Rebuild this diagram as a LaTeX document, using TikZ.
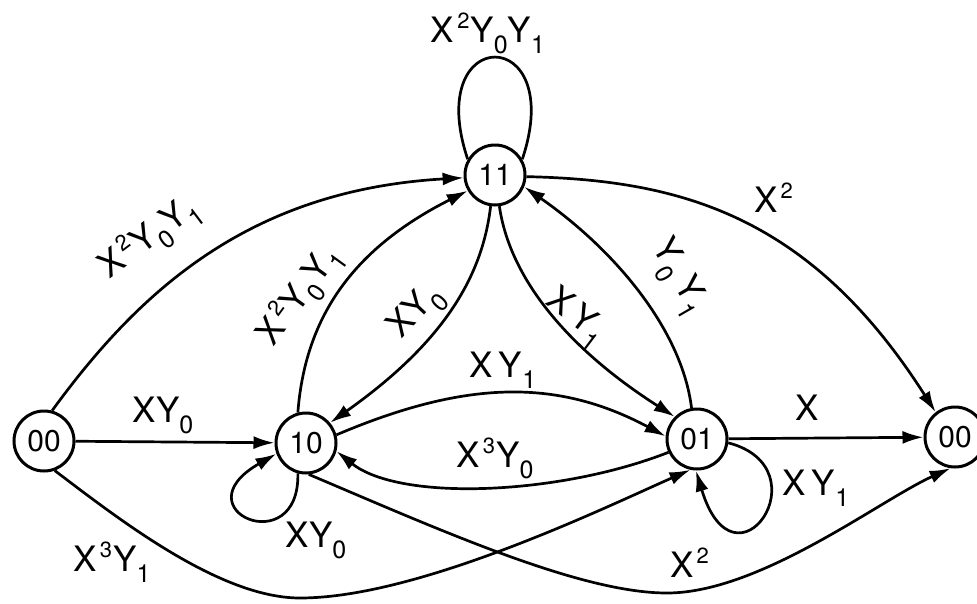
\documentclass[tikz,border=0pt]{standalone}
\usepackage{fontspec}
\setmainfont{TeX Gyre Heros}
\usetikzlibrary{arrows.meta}
\newcommand\up[1]{\kern3pt\raisebox{14pt}{\fontsize{22}{22}\selectfont #1}\kern1pt}
\newcommand\dn[1]{\raisebox{-11pt}{\fontsize{25}{25}\selectfont #1}}
\begin{document}
\begin{tikzpicture}[x=1pt,y=-1pt,
  state/.style={circle,draw,line width=3pt,minimum size=60pt,inner sep=0pt,font=\fontsize{30}{30}\selectfont},
  edge/.style={line width=2.7pt,-{Latex[length=21pt,width=13pt]}},
  plain/.style={line width=2.7pt},
  lab/.style={inner sep=0pt,font=\fontsize{35}{40}\selectfont}]
\useasboundingbox (0,0) rectangle (977,603);
% states
\node[state] (A) at (44,441) {00};
\node[state] (B) at (306,443) {10};
\node[state] (C) at (495,175) {11};
\node[state] (D) at (697,439) {01};
\node[state] (E) at (955,437) {00};
% connectors
\draw[edge] (A.75) .. controls (140,290) and (250,190) .. (C.185);
\draw[edge] (A) -- (B);
\draw[edge] (A.290) .. controls (120,520) and (220,598) .. (300,598) .. controls (420,598) and (610,505) .. (D.258);
\draw[edge] (B.105) .. controls (305,320) and (350,250) .. (C.210);
\draw[edge] (C.262) .. controls (482,280) and (440,345) .. (B.40);
\draw[edge] (C.278) .. controls (510,280) and (570,350) .. (D.135);
\draw[edge] (D.100) .. controls (682,330) and (615,250) .. (C.338);
\draw[edge] (C.357) .. controls (680,180) and (810,215) .. (E.128);
\draw[edge] (B.15) .. controls (470,378) and (560,380) .. (D.175);
\draw[edge] (D.205) .. controls (560,495) and (400,502) .. (B.345);
\draw[edge] (D) -- (E);
\draw[edge] (B.275) .. controls (440,530) and (580,593) .. (667,593) .. controls (760,593) and (880,500) .. (E.262);
% self loops
\draw[edge] (B.255) .. controls (300,562) and (178,510) .. (B.200);
\draw[edge] (D.353) .. controls (825,468) and (735,600) .. (D.268);
\draw[plain] (C.150) .. controls (422,23) and (568,23) .. (C.30);
% labels
\node[lab] (l1) at (488,33) {X\up{2}Y\dn{0}Y\dn{1}};
\node[lab,rotate=37] (l2) at (150,238) {X\up{2}Y\dn{0}Y\dn{1}};
\node[lab,rotate=54] (l3) at (300,296) {X\up{2}Y\dn{0}Y\dn{1}};
\node[lab,rotate=47] (l4) at (417,313) {XY\dn{0}};
\node[lab,rotate=-37] (l5) at (575,318) {X\,Y\dn{1}};
\node[lab,rotate=-60] (l6) at (678,278) {Y\dn{0}\,Y\dn{1}};
\node[lab] (l7) at (774,198) {X\up{2}};
\node[lab] (l8) at (503,370) {X\,Y\dn{1}};
\node[lab] (l9) at (495,458) {X\up{3}Y\dn{0}};
\node[lab] (l10) at (807,408) {X};
\node[lab] (l11) at (163,415) {XY\dn{0}};
\node[lab] (l12) at (316,540) {XY\dn{0}};
\node[lab] (l13) at (816,488) {X\,Y\dn{1}};
\node[lab] (l14) at (112,562) {X\up{3}Y\dn{1}};
\node[lab] (l15) at (690,563) {X\up{2}};
\end{tikzpicture}
\end{document}
